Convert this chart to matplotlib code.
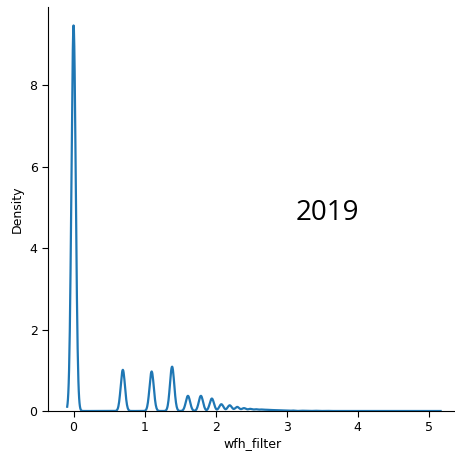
import numpy as np
import matplotlib
matplotlib.use("Agg")
import matplotlib.pyplot as plt

# values (log1p of wfh count) and their weights for the density estimate
wfh_counts = [0, 1, 2, 3, 4, 5, 6, 7, 8, 9, 10, 11, 12, 13, 14, 15, 16, 17, 18, 19, 21, 24, 29, 34, 54, 159]
weights = [0.712, 0.076, 0.073, 0.082, 0.028, 0.028, 0.023, 0.0125, 0.0105, 0.0075,
           0.0052, 0.0038, 0.003, 0.0025, 0.002, 0.0016, 0.0012, 0.001, 0.0008, 0.0006,
           0.0008, 0.0005, 0.0004, 0.0003, 0.0001, 0.0001]
bw = 0.03
year_label = "2019"

values = np.log1p(np.array(wfh_counts, dtype=float))
w = np.array(weights)

grid = np.linspace(values.min() - 3 * bw, values.max() + 3 * bw, 1000)
density = (w[None, :] * np.exp(-0.5 * ((grid[:, None] - values[None, :]) / bw) ** 2)
           / (bw * np.sqrt(2 * np.pi))).sum(axis=1)

fig = plt.figure(figsize=(4.55, 4.55), dpi=100)
ax = fig.add_axes([48 / 455, 44 / 455, 410 / 455, 404 / 455])

ax.plot(grid, density, color="#1f77b4", lw=1.6)
ax.set_xlim(-0.36, 5.41)
ax.set_ylim(0, 9.92)
ax.set_yticks([0, 2, 4, 6, 8])
ax.set_xticks([0, 1, 2, 3, 4, 5])
ax.tick_params(labelsize=9, length=4)

ax.spines["top"].set_visible(False)
ax.spines["right"].set_visible(False)

ax.set_xlabel("wfh_filter", fontsize=9, labelpad=2)
ax.set_ylabel("Density", fontsize=9, labelpad=4)

ax.text(3.57, 4.87, year_label, fontsize=20, family="Open Sans",
        ha="center", va="center")

fig.savefig("out.png", dpi=100)
